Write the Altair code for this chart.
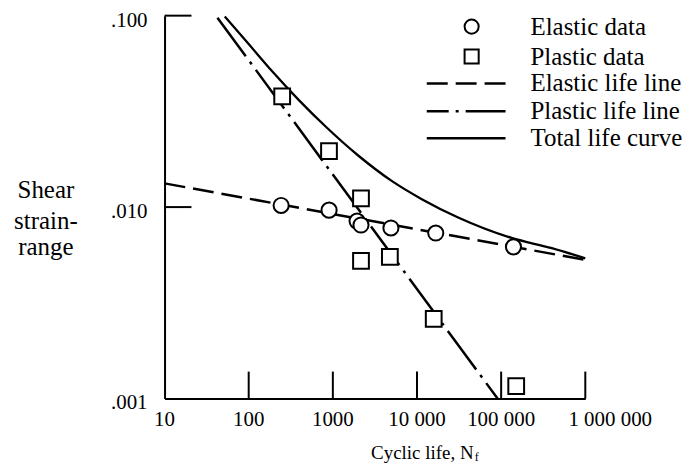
import altair as alt
import pandas as pd

# ---------------- data ----------------
elastic_N = [243, 902, 1940, 2160, 4900, 16700, 140000]
elastic_strain = [0.0102, 0.00964, 0.00845, 0.00806, 0.00778, 0.00732, 0.0062]

plastic_N = [250, 900, 2160, 2160, 4760, 15800, 151000]
plastic_strain = [0.0379, 0.0196, 0.0111, 0.00524, 0.0055, 0.00261, 0.00116]

elastic_line_N = [10, 1000000]
elastic_line_strain = [0.0133, 0.0053]

plastic_line_N = [42.5, 90600]
plastic_line_strain = [0.0976, 0.001]

total_N = [52, 100, 190, 400, 832, 2000, 5000, 11400, 31300, 133000, 400000, 1000000]
total_strain = [0.099, 0.071, 0.0512, 0.036, 0.0262, 0.0186, 0.0137, 0.0110, 0.0088,
                0.0069, 0.0061, 0.0054]

x_ticks = [100, 1000, 10000, 100000, 1000000]
x_tick_values = [10, 100, 1000, 10000, 100000]
x_tick_labels = ["10", "100", "1000", "10 000", "100 000"]
x_last_value = [1000000]
x_last_label = ["1 000 000"]
y_ticks = [0.01, 0.1]
y_tick_values = [0.001, 0.01, 0.1]
y_tick_labels = [".001", ".010", ".100"]

legend_labels = ["Elastic data", "Plastic data", "Elastic life line",
                 "Plastic life line", "Total life curve"]
y_title_lines = ["Shear", "strain-", "range"]
x_title = "Cyclic life, N"
x_title_sub = "f"

# ---------------- styling ----------------
FONT = "Liberation Serif"
W, H = 422, 384
xs = alt.Scale(type="log", domain=[10, 1000000], nice=False)
ys = alt.Scale(type="log", domain=[0.001, 0.1], nice=False)
xax = alt.Axis(labels=False, ticks=False, grid=False, title=None,
               domainColor="black", domainWidth=2)
yax = alt.Axis(labels=False, ticks=False, grid=False, title=None,
               domainColor="black", domainWidth=2)

def X(f):
    return alt.X(f, type="quantitative", scale=xs, axis=xax)

def Y(f):
    return alt.Y(f, type="quantitative", scale=ys, axis=yax)

one = pd.DataFrame({"a": [0]})

elastic_df = pd.DataFrame({"N": elastic_N, "s": elastic_strain})
plastic_df = pd.DataFrame({"N": plastic_N, "s": plastic_strain})
eline_df = pd.DataFrame({"N": elastic_line_N, "s": elastic_line_strain})
pline_df = pd.DataFrame({"N": plastic_line_N, "s": plastic_line_strain})
total_df = pd.DataFrame({"N": total_N, "s": total_strain})

layers = []

# axis ticks (inward)
layers.append(
    alt.Chart(pd.DataFrame({"N": x_ticks})).mark_rule(color="black", strokeWidth=2)
    .encode(x=X("N"), y=alt.value(H), y2=alt.value(H - 27))
)
layers.append(
    alt.Chart(pd.DataFrame({"s": y_ticks})).mark_rule(color="black", strokeWidth=2)
    .encode(y=Y("s"), x=alt.value(0), x2=alt.value(27))
)

# lines
layers.append(
    alt.Chart(eline_df).mark_line(color="black", strokeWidth=2.5, strokeDash=[21, 8])
    .encode(x=X("N"), y=Y("s"))
)
layers.append(
    alt.Chart(pline_df).mark_line(color="black", strokeWidth=2.5, strokeDash=[48, 7, 3, 7])
    .encode(x=X("N"), y=Y("s"))
)
layers.append(
    alt.Chart(total_df).mark_line(color="black", strokeWidth=2.3, interpolate="monotone")
    .encode(x=X("N"), y=Y("s"))
)

# data points
layers.append(
    alt.Chart(elastic_df).mark_point(shape="circle", size=230, filled=False, fill="white",
                                     fillOpacity=1, stroke="black", strokeWidth=2, opacity=1)
    .encode(x=X("N"), y=Y("s"))
)
layers.append(
    alt.Chart(plastic_df).mark_point(shape="square", size=250, filled=False, fill="white",
                                     fillOpacity=1, stroke="black", strokeWidth=2, opacity=1)
    .encode(x=X("N"), y=Y("s"))
)

# tick labels
layers.append(
    alt.Chart(pd.DataFrame({"N": x_tick_values, "t": x_tick_labels}))
    .mark_text(font=FONT, fontSize=21, align="center", baseline="middle", color="black")
    .encode(x=X("N"), y=alt.value(H + 22), text="t:N")
)
layers.append(
    alt.Chart(pd.DataFrame({"N": x_last_value, "t": x_last_label}))
    .mark_text(font=FONT, fontSize=21, align="center", baseline="middle", color="black", dx=25)
    .encode(x=X("N"), y=alt.value(H + 22), text="t:N")
)
layers.append(
    alt.Chart(pd.DataFrame({"s": y_tick_values, "t": y_tick_labels}))
    .mark_text(font=FONT, fontSize=21, align="right", baseline="middle", color="black", dy=5)
    .encode(y=Y("s"), x=alt.value(-17), text="t:N")
)

# axis titles
for line, yb in zip(y_title_lines, [183, 214, 240]):
    layers.append(
        alt.Chart(one).mark_text(font=FONT, fontSize=25, align="center",
                                 baseline="alphabetic", color="black")
        .encode(x=alt.value(-119), y=alt.value(yb), text=alt.value(line))
    )
layers.append(
    alt.Chart(one).mark_text(font=FONT, fontSize=19, align="right",
                             baseline="alphabetic", color="black")
    .encode(x=alt.value(310), y=alt.value(445), text=alt.value(x_title))
)
layers.append(
    alt.Chart(one).mark_text(font=FONT, fontSize=12, align="left",
                             baseline="alphabetic", color="black")
    .encode(x=alt.value(311), y=alt.value(447), text=alt.value(x_title_sub))
)

# legend
rows = [11, 41, 68, 96, 123]
for lab, yr in zip(legend_labels, rows):
    layers.append(
        alt.Chart(one).mark_text(font=FONT, fontSize=25, align="left",
                                 baseline="middle", color="black")
        .encode(x=alt.value(367), y=alt.value(yr), text=alt.value(lab))
    )
layers.append(
    alt.Chart(one).mark_point(shape="circle", size=200, filled=False, fill="white",
                              fillOpacity=1, stroke="black", strokeWidth=2, opacity=1)
    .encode(x=alt.value(308), y=alt.value(rows[0]))
)
layers.append(
    alt.Chart(one).mark_point(shape="square", size=200, filled=False, fill="white",
                              fillOpacity=1, stroke="black", strokeWidth=2, opacity=1)
    .encode(x=alt.value(308), y=alt.value(rows[1]))
)
layers.append(
    alt.Chart(one).mark_rule(color="black", strokeWidth=2.5, strokeDash=[21, 8])
    .encode(x=alt.value(263), x2=alt.value(342), y=alt.value(rows[2]))
)
layers.append(
    alt.Chart(one).mark_rule(color="black", strokeWidth=2.5, strokeDash=[22, 7, 3, 7, 40, 10])
    .encode(x=alt.value(263), x2=alt.value(342), y=alt.value(rows[3]))
)
layers.append(
    alt.Chart(one).mark_rule(color="black", strokeWidth=2.5)
    .encode(x=alt.value(263), x2=alt.value(342), y=alt.value(rows[4]))
)

chart = alt.layer(*layers).properties(
    width=W, height=H,
    autosize=alt.AutoSizeParams(type="none"),
    padding={"left": 157, "top": 7, "right": 103, "bottom": 66},
    background="white",
).configure_view(stroke=None)

chart.save("out.html", embed_options={"renderer": "svg", "actions": False})
